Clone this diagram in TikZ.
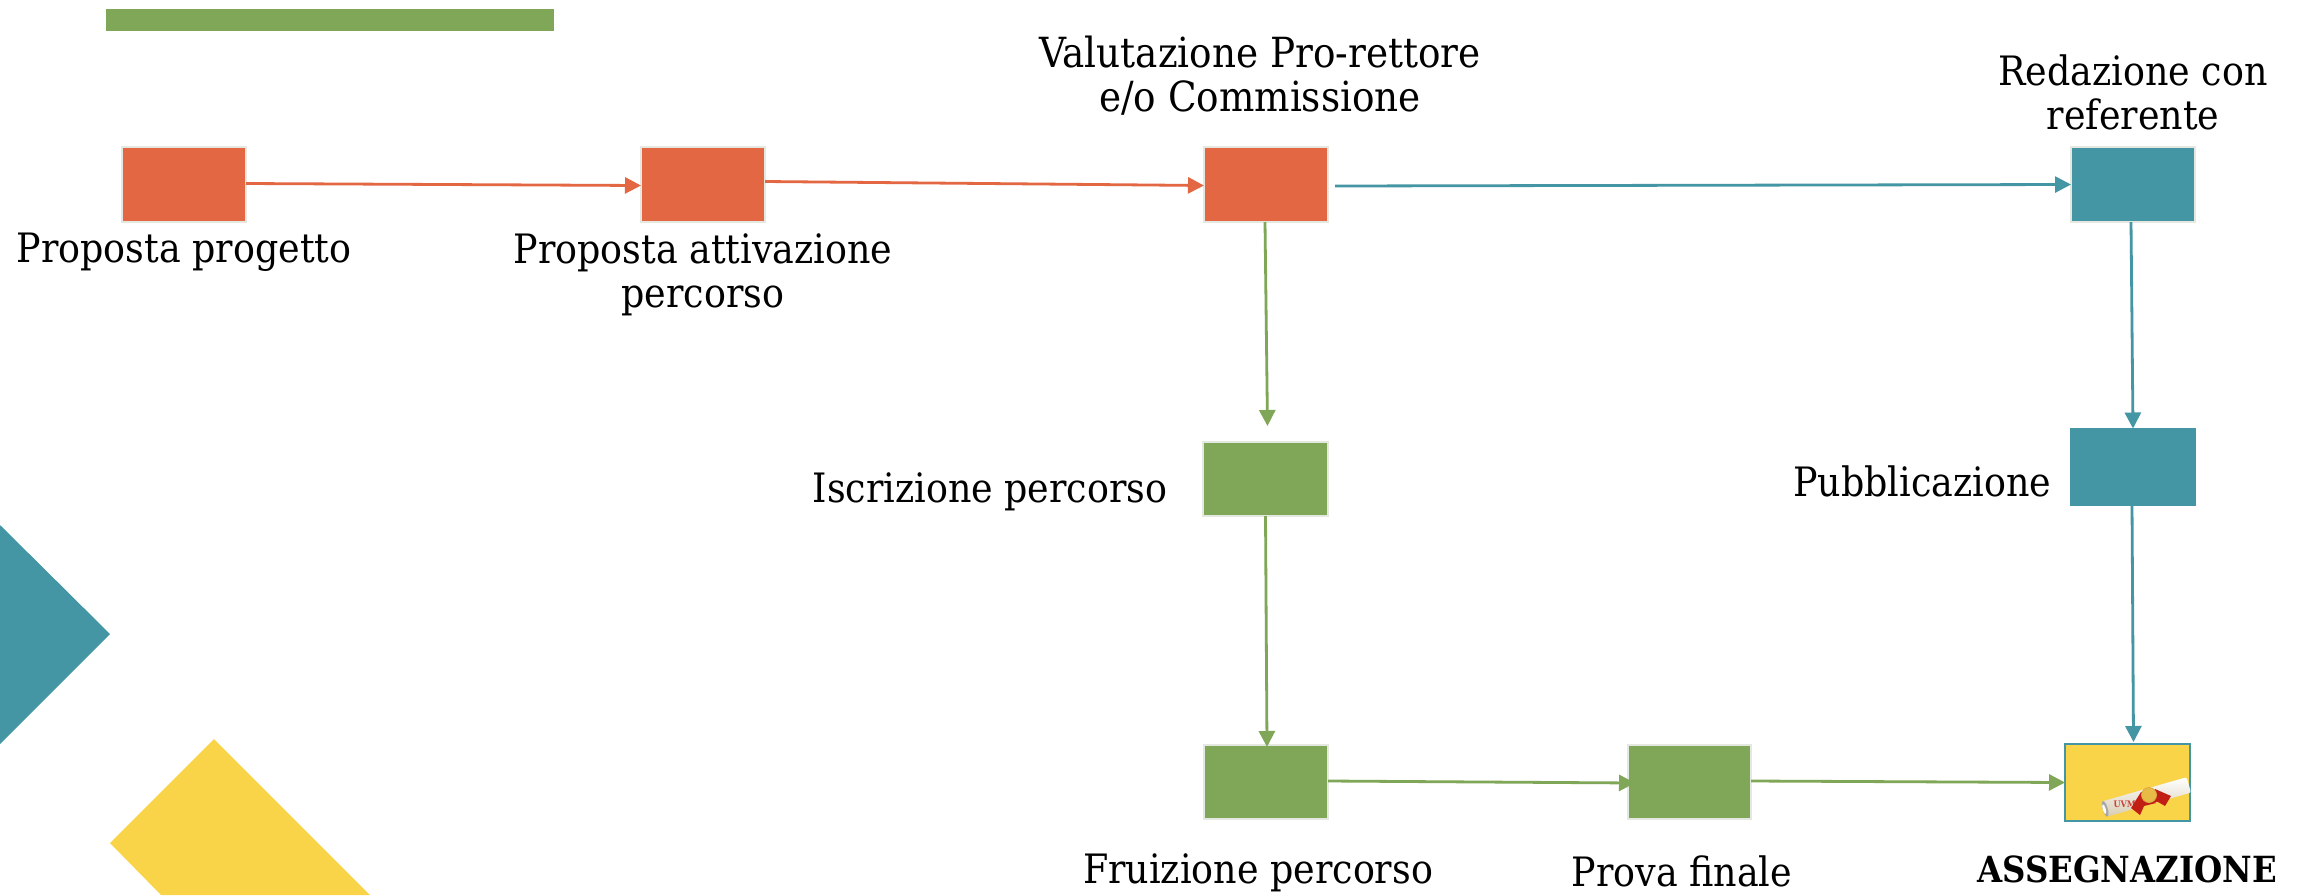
\documentclass[tikz,border=0pt]{standalone}
\usepackage{fontspec}
\setmainfont{DejaVu Serif Condensed}
\usetikzlibrary{arrows.meta,calc}
\definecolor{cOrange}{HTML}{E36743}
\definecolor{cTeal}{HTML}{4496A4}
\definecolor{cGreen}{HTML}{7FA757}
\definecolor{cYellow}{HTML}{F9D348}
\definecolor{cEdge}{HTML}{E4E8E0}
\definecolor{cRibbon}{HTML}{C21F14}
\definecolor{cCream}{HTML}{D8CDB4}
\tikzset{
  px/.style={x=1pt,y=-1pt},
  stepbox/.style={rectangle,draw=cEdge,line width=1.5pt,inner sep=0pt,outer sep=0pt,anchor=north west},
  conn/.style={line width=2.8pt,-{Triangle[length=16pt,width=16pt]}},
  lbl/.style={font=\fontsize{40.5}{44}\selectfont,align=center,inner sep=0pt,text=black}
}
\begin{document}
\begin{tikzpicture}[px]
\useasboundingbox (0,0) rectangle (2305,895);
\fill[white] (0,0) rectangle (2305,895);
% decorations
\fill[cGreen] (106,9) rectangle (554,30.5);
\fill[cTeal] (0,525) -- (110,634) -- (0,744) -- cycle;
\fill[cYellow] (110,843) -- (214,739) -- (370,895) -- (161,895) -- cycle;
% boxes
\node[stepbox,fill=cOrange,minimum width=124pt,minimum height=75pt] (b1) at (122,147) {};
\node[stepbox,fill=cOrange,minimum width=124pt,minimum height=75pt] (b2) at (641,147) {};
\node[stepbox,fill=cOrange,minimum width=124pt,minimum height=75pt] (b3) at (1204,147) {};
\node[stepbox,fill=cTeal,minimum width=124pt,minimum height=75pt] (b4) at (2071,147) {};
\node[stepbox,fill=cGreen,minimum width=125pt,minimum height=74pt] (b5) at (1203,442) {};
\node[stepbox,fill=cTeal,draw=cTeal,minimum width=125pt,minimum height=77pt] (b6) at (2070.5,428.5) {};
\node[stepbox,fill=cGreen,minimum width=124pt,minimum height=74pt] (b7) at (1204,745) {};
\node[stepbox,fill=cGreen,minimum width=123pt,minimum height=74pt] (b8) at (1628,745) {};
\node[stepbox,fill=cYellow,draw=cTeal,minimum width=125pt,minimum height=77pt] (b9) at (2065,744) {};
% diploma picture
\begin{scope}[shift={(2146.5,797)},rotate=16]
  \shade[top color=white,bottom color=cCream,rounded corners=2pt] (-44,-8) rectangle (44,8);
  \fill[black!35] (-43,0) ellipse (2.5pt and 8pt);
  \fill[white] (-44,0) ellipse (1.5pt and 5pt);
  \node[inner sep=0pt,text=cRibbon!85!white,font=\fontsize{9}{9}\selectfont\bfseries] (uvm) at (-23,1) {UVM};
\end{scope}
\begin{scope}[shift={(2149,795)}]
  \fill[cRibbon] (-8,-3) -- (-18,13) -- (-9,20) -- (-5,11) -- (7,8) -- (1,0) -- cycle;
  \fill[cRibbon] (6,-6) -- (-2,6) -- (9,7) -- (16,11) -- (22,1) -- cycle;
  \fill[cYellow!70!brown,draw=cYellow!50!brown,line width=.8pt] (0,0) circle (7.5pt);
\end{scope}
% connectors
\draw[conn,cOrange] ($(b1.east)+(0,-1)$) -- ($(b2.west)+(0,1)$);
\draw[conn,cOrange] ($(b2.east)+(0,-3)$) -- ($(b3.west)+(0,1)$);
\coordinate (t0) at ($(b3.east)+(7,1.5)$);
\draw[conn,cTeal] (t0) -- (b4.west);
\coordinate (g1) at ($(b5.north)+(2,-16)$);
\draw[conn,cGreen] ($(b3.south)+(-1,0)$) -- (g1);
\draw[conn,cTeal] ($(b4.south)+(-2,0)$) -- (b6.north);
\draw[conn,cGreen] (b5.south) -- ($(b7.north)+(1,2)$);
\coordinate (t1) at ($(b9.north)+(6,-2)$);
\draw[conn,cTeal] ($(b6.south)+(-1,0)$) -- (t1);
\coordinate (g2) at ($(b8.west)+(7,1)$);
\draw[conn,cGreen] ($(b7.east)+(0,-1)$) -- (g2);
\draw[conn,cGreen] ($(b8.east)+(0,-1)$) -- (b9.west);
% labels
\node[lbl] (l1) at (184,252.5) {Proposta progetto};
\node[lbl] (l2) at (703,275) {Proposta attivazione\\percorso};
\node[lbl,font=\fontsize{41.5}{44}\selectfont] (l3) at (1260,76) {Valutazione Pro-rettore\\e/o Commissione};
\node[lbl] (l4) at (2133,92) {Redazione con\\referente};
\node[lbl] (l5) at (990,491.5) {Iscrizione percorso};
\node[lbl] (l6) at (1922,481) {Pubblicazione};
\node[lbl] (l7) at (1258,873) {Fruizione percorso};
\node[lbl] (l8) at (1682,871) {Prova finale};
\node[lbl,font=\fontsize{36}{44}\selectfont\bfseries] (l9) at (2127,869) {ASSEGNAZIONE};
\end{tikzpicture}
\end{document}
